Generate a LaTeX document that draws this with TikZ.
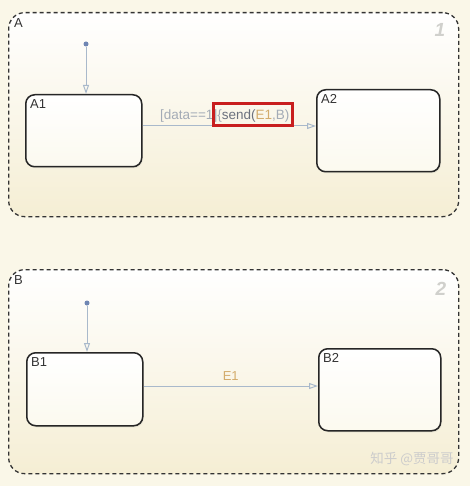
\documentclass[tikz,border=0pt]{standalone}
\usepackage{fontspec}
\setmainfont{Liberation Sans}
\newfontfamily\cjkfont{Noto Sans CJK SC}
\usetikzlibrary{arrows.meta,shadows}
\definecolor{bgc}{HTML}{FAF7E8}
\definecolor{chartbot}{HTML}{F5EED4}
\definecolor{trc}{HTML}{A9B9CB}
\definecolor{dotc}{HTML}{6F86B3}
\definecolor{lblgray}{HTML}{A3ABB6}
\definecolor{lbldark}{HTML}{6B717E}
\definecolor{lblorange}{HTML}{D3AC6C}
\definecolor{boxred}{HTML}{C81E1E}
\definecolor{numgray}{HTML}{D0D0CC}
\tikzset{
  chart/.style={draw=black!80, line width=1.3pt, dash pattern=on 4pt off 3pt,
    rounded corners=16pt, top color=white, bottom color=chartbot,
    anchor=north west, inner sep=0pt},
  statebox/.style={draw=black!85, line width=1.5pt, rounded corners=9pt,
    top color=white, bottom color=bgc!70!white, anchor=north west, inner sep=0pt,
    drop shadow={shadow xshift=1pt, shadow yshift=-1.5pt, opacity=0.15}},
  stlabel/.style={anchor=north west, inner sep=0pt, font=\fontsize{13}{14}\selectfont, text=black!80},
  chnum/.style={anchor=center, inner sep=0pt, font=\fontsize{19}{20}\selectfont\bfseries\itshape, text=numgray},
  trans/.style={draw=trc, line width=1pt, -{Triangle[open, length=9pt, width=6pt]}},
  initdot/.style={circle, fill=dotc, inner sep=0pt, minimum size=5pt},
}
\begin{document}
\begin{tikzpicture}[x=1pt,y=-1pt]
\fill[bgc] (0,0) rectangle (470,486);
\useasboundingbox (0,0) rectangle (470,486);

% Chart A
\node[chart, minimum width=450pt, minimum height=204pt] (A) at (8,12) {};
\node[stlabel] (Alab) at ([xshift=6pt,yshift=-6pt]A.north west) {A};
\node[chnum] (Anum) at (440,30) {1};
\node[statebox, minimum width=116pt, minimum height=72pt] (A1) at (25,94) {};
\node[stlabel] (A1lab) at ([xshift=5pt,yshift=-5pt]A1.north west) {A1};
\node[statebox, minimum width=123pt, minimum height=82pt] (A2) at (316,89) {};
\node[stlabel] (A2lab) at ([xshift=5pt,yshift=-5pt]A2.north west) {A2};
\node[initdot] (Ai) at (86,44) {};
\draw[trans] (Ai) -- (Ai |- A1.north);
\coordinate (At) at (A1.east |- 0,126);
\draw[trans] (At) -- (At -| A2.west);
\node[anchor=base west, inner sep=0pt, font=\fontsize{13.5}{14}\selectfont] (Acond) at (160,120)
  {\textcolor{lblgray}{[data==1]\{}\textcolor{lbldark}{send(}\textcolor{lblorange}{E1}\textcolor{lblgray}{,B)}};
\node[draw=boxred, line width=3pt, minimum width=79pt, minimum height=22pt, inner sep=0pt] (redbox) at (253,115) {};

% Chart B
\node[chart, minimum width=450pt, minimum height=204pt] (B) at (8,269) {};
\node[stlabel] (Blab) at ([xshift=6pt,yshift=-6pt]B.north west) {B};
\node[chnum] (Bnum) at (441,289) {2};
\node[statebox, minimum width=116pt, minimum height=73pt] (B1) at (26,352) {};
\node[stlabel] (B1lab) at ([xshift=5pt,yshift=-5pt]B1.north west) {B1};
\node[statebox, minimum width=122pt, minimum height=82pt] (B2) at (318,348) {};
\node[stlabel] (B2lab) at ([xshift=5pt,yshift=-5pt]B2.north west) {B2};
\node[initdot] (Bi) at (87,303) {};
\draw[trans] (Bi) -- (Bi |- B1.north);
\coordinate (Bt) at (B1.east |- 0,386);
\draw[trans] (Bt) -- (Bt -| B2.west) node[midway, above=5pt, inner sep=0pt, text=lblorange, font=\fontsize{13}{14}\selectfont] (Blbl) {E1};

% watermark
\node[anchor=center, inner sep=0pt, font=\cjkfont\fontsize{13.5}{14}\selectfont, text=black!20] (wm) at (412,459) {知乎 @贾哥哥};
\end{tikzpicture}
\end{document}
